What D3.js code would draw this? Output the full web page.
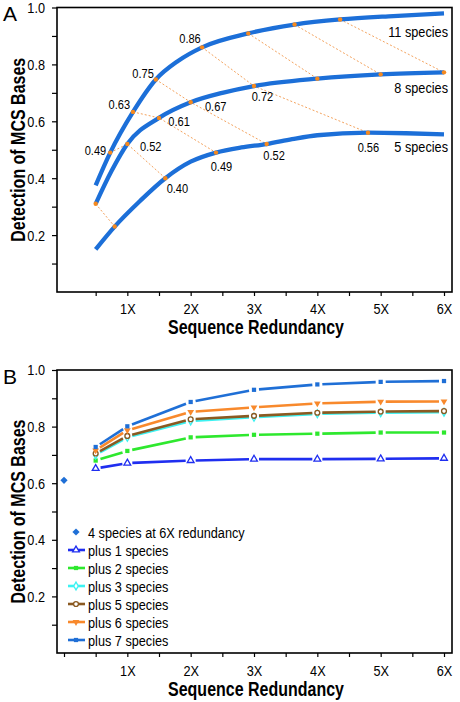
<!DOCTYPE html>
<html><head><meta charset="utf-8">
<script src="https://cdn.jsdelivr.net/npm/d3@7"></script>
<style>html,body{margin:0;padding:0;background:#fff;}svg{display:block;}</style>
</head><body>
<script>
// ---------------- DATA ----------------
// Panel A: detection vs redundancy for three species counts
const curveNames = ["11 species", "8 species", "5 species"];
const curve11X = [0.5, 0.73, 1.09, 1.45, 1.8, 2.18, 2.91, 3.64, 4.36, 5.2, 6.0];
const curve11Y = [0.375, 0.49, 0.633, 0.747, 0.812, 0.86, 0.909, 0.94, 0.958, 0.97, 0.979];
const curve8X = [0.5, 0.75, 1.0, 1.5, 2.0, 2.5, 3.0, 4.0, 5.0, 6.0];
const curve8Y = [0.31, 0.425, 0.52, 0.612, 0.667, 0.70, 0.724, 0.75, 0.765, 0.772];
const curve5X = [0.5, 0.8, 1.2, 1.6, 2.0, 2.4, 2.8, 3.2, 3.6, 4.0, 4.8, 5.4, 6.0];
const curve5Y = [0.15, 0.23, 0.32, 0.40, 0.458, 0.49, 0.508, 0.52, 0.537, 0.551, 0.56, 0.558, 0.554];
// equal-total-sequencing connectors: [curve index, redundancy] chains
const connectors = [
  [[1, 0.5], [2, 0.8]],
  [[0, 0.73], [1, 1.0], [2, 1.6]],
  [[0, 1.09], [1, 1.5], [2, 2.4]],
  [[0, 1.45], [1, 2.0], [2, 3.2]],
  [[0, 2.18], [1, 3.0], [2, 4.8]],
  [[0, 2.91], [1, 4.0]],
  [[0, 3.64], [1, 5.0]],
  [[0, 4.36], [1, 6.0]]
];
// labelled points [curve index, redundancy]
const labelledPoints = [[0,0.73],[0,1.09],[0,1.45],[0,2.18],[1,1.0],[1,1.5],[1,2.0],[1,3.0],[2,1.6],[2,2.4],[2,3.2],[2,4.8]];

// Panel B
const redundancyB = [0.5, 1, 2, 3, 4, 5, 6];
const seriesNames = ["plus 1 species", "plus 2 species", "plus 3 species", "plus 5 species", "plus 6 species", "plus 7 species"];
const plus1 = [0.652, 0.671, 0.680, 0.685, 0.685, 0.686, 0.688];
const plus2 = [0.680, 0.714, 0.762, 0.771, 0.775, 0.779, 0.779];
const plus3 = [0.700, 0.762, 0.820, 0.833, 0.845, 0.849, 0.851];
const plus5 = [0.705, 0.767, 0.826, 0.838, 0.849, 0.853, 0.855];
const plus6 = [0.716, 0.787, 0.852, 0.868, 0.882, 0.888, 0.889];
const plus7 = [0.728, 0.801, 0.887, 0.930, 0.949, 0.958, 0.961];
const baseName = "4 species at 6X redundancy";
const baseX = 0, baseY = 0.61;

const yTicks = [0.1,0.2,0.3,0.4,0.5,0.6,0.7,0.8,0.9,1.0];
const yTickLabels = {"0.2":"0.2","0.4":"0.4","0.6":"0.6","0.8":"0.8","1":"1.0"};
const xTickLabels = ["1X","2X","3X","4X","5X","6X"];

// ---------------- STYLE ----------------
const FONT = "'Liberation Sans',Arial,Helvetica,sans-serif";
const SQ = 0.82; // horizontal condensing (narrow face)
const curveColor = "#1c6fd8";
const dotColor = "#f5891f";
const seriesColors = ["#1f2ef0", "#2ee82e", "#3cf2f2", "#8b5a22", "#f8892c", "#1f6fd6"];

const svg = d3.select("body").append("svg").attr("width", 460).attr("height", 702);

const x = d3.scaleLinear().domain([0, 6]).range([64, 444]);
const yA = d3.scaleLinear().domain([0, 1]).range([292, 7.5]);
const yB = d3.scaleLinear().domain([0, 1]).range([653, 370]);

// narrow text helper
function ntext(parent, tx, ty, str, size, anchor, bold, rot) {
  const g = parent.append("g").attr("transform", `translate(${tx},${ty})${rot ? " rotate(" + rot + ")" : ""} scale(${SQ},1)`);
  const t = g.append("text").attr("font-family", FONT).attr("font-size", size)
    .attr("text-anchor", anchor || "start").attr("fill", "#000").text(str);
  if (bold) t.attr("font-weight", "bold");
  return t;
}

function styleAxis(g, left) {
  g.select(".domain").remove();
  g.selectAll(".tick line").attr("stroke", "#000").attr("stroke-width", 1.2);
  g.selectAll("text").attr("font-family", FONT).attr("font-size", 15.5).attr("fill", "#000")
    .attr("transform", `scale(${SQ},1)`);
  if (left) g.selectAll("text").attr("x", -12 / SQ);
}
function drawFrame(yS) {
  svg.append("rect").attr("x", 57).attr("y", yS(1)).attr("width", 395).attr("height", yS(0) - yS(1))
    .attr("fill", "none").attr("stroke", "#000").attr("stroke-width", 1.6);
}
function drawAxes(yS, xTicks, pad, titleOff) {
  svg.append("g").attr("transform", "translate(57,0)")
    .call(d3.axisLeft(yS).tickValues(yTicks).tickSize(5).tickPadding(6)
      .tickFormat(d => yTickLabels[String(+d.toFixed(1))] || ""))
    .call(g => styleAxis(g, true));
  svg.append("g").attr("transform", `translate(0,${yS(0)})`)
    .call(d3.axisBottom(x).tickValues(xTicks).tickSize(4).tickPadding(pad)
      .tickFormat(d => (Number.isInteger(d) && d > 0) ? xTickLabels[d - 1] : ""))
    .call(g => styleAxis(g, false));
  const cy = (yS(0) + yS(1)) / 2;
  ntext(svg, 25, cy, "Detection of MCS Bases", 19.5, "middle", true, -90);
  ntext(svg, 256, yS(0) + titleOff, "Sequence Redundancy", 19.5, "middle", true);
}

// ---------------- PANEL A ----------------
const curves = [
  curve11X.map((v, i) => ({x: v, y: curve11Y[i]})),
  curve8X.map((v, i) => ({x: v, y: curve8Y[i]})),
  curve5X.map((v, i) => ({x: v, y: curve5Y[i]}))
];
const pointOf = (c, r) => curves[c].find(p => Math.abs(p.x - r) < 1e-9);

drawFrame(yA);
drawAxes(yA, d3.range(1, 13).map(d => d / 2), 7, 42);

svg.append("text").attr("x", 3).attr("y", 20.5).attr("font-family", FONT).attr("font-size", 21).text("A");

const lineA = d3.line().x(d => x(d.x)).y(d => yA(d.y)).curve(d3.curveMonotoneX);
// connectors
svg.append("g").selectAll("path").data(connectors).join("path")
  .attr("d", ch => d3.line().x(d => x(d.x)).y(d => yA(d.y))(ch.map(([c, r]) => pointOf(c, r))))
  .attr("fill", "none").attr("stroke", "#f4a35e").attr("stroke-width", 1).attr("stroke-dasharray", "2,2");
// curves
svg.append("g").selectAll("path").data(curves).join("path")
  .attr("d", lineA).attr("fill", "none").attr("stroke", curveColor).attr("stroke-width", 4.3)
  .attr("stroke-linecap", "butt");
// dots
const dotPts = [];
connectors.forEach(ch => ch.forEach(([c, r]) => dotPts.push(pointOf(c, r))));
svg.append("g").selectAll("circle").data(dotPts).join("circle")
  .attr("cx", d => x(d.x)).attr("cy", d => yA(d.y)).attr("r", 2.2).attr("fill", dotColor);
// value labels
const labelLayout = [
  ["end", -4, 2.7], ["end", -3, -2.7], ["end", -2, -1.5], ["end", -1.3, -4],
  ["start", 12.6, 6.7], ["start", 9.3, 7.7], ["start", 14.3, 8.4], ["start", -2.3, 15.4],
  ["start", 1.3, 14.5], ["start", -5.3, 18], ["start", -3.3, 16], ["middle", 0.4, 19.4]
];
const labG = svg.append("g");
labelledPoints.forEach(([c, r], i) => {
  const p = pointOf(c, r), L = labelLayout[i];
  ntext(labG, x(p.x) + L[1], yA(p.y) + L[2], d3.format(".2f")(p.y), 13.5, L[0]);
});
// species labels
const speciesDy = [23.5, 20.6, 17.6];
curveNames.forEach((n, i) => {
  ntext(svg, 448, yA(curves[i][curves[i].length - 1].y) + speciesDy[i], n, 15.5, "end");
});

// ---------------- PANEL B ----------------
drawFrame(yB);
drawAxes(yB, d3.range(0, 13).map(d => d / 2), 7.5, 43);
svg.append("text").attr("x", 3).attr("y", 384).attr("font-family", FONT).attr("font-size", 21).text("B");

const seriesVals = [plus1, plus2, plus3, plus5, plus6, plus7];
const series = seriesVals.map((vals, i) => ({name: seriesNames[i], color: seriesColors[i],
  pts: vals.map((v, j) => ({x: redundancyB[j], y: v}))}));

function marker(sel, i, color) {
  if (i === 0) sel.append("path").attr("d", d3.symbol(d3.symbolTriangle, 20)()).attr("fill", "#fff").attr("stroke", color).attr("stroke-width", 1.3);
  else if (i === 1) sel.append("path").attr("d", d3.symbol(d3.symbolSquare, 18)()).attr("fill", color);
  else if (i === 2) sel.append("path").attr("d", d3.symbol(d3.symbolDiamond, 18)()).attr("fill", "#fff").attr("stroke", color).attr("stroke-width", 1.3);
  else if (i === 3) sel.append("circle").attr("r", 2.4).attr("fill", "#fff").attr("stroke", color).attr("stroke-width", 1.4);
  else if (i === 4) sel.append("path").attr("d", d3.symbol(d3.symbolTriangle, 20)()).attr("transform", "rotate(180)").attr("fill", color);
  else sel.append("path").attr("d", d3.symbol(d3.symbolSquare, 18)()).attr("fill", color);
}

const gap = 5;
series.forEach((s, i) => {
  const g = svg.append("g");
  const px = s.pts.map(p => [x(p.x), yB(p.y)]);
  for (let k = 0; k < px.length - 1; k++) {
    const [x1, y1] = px[k], [x2, y2] = px[k + 1];
    const len = Math.hypot(x2 - x1, y2 - y1), ux = (x2 - x1) / len, uy = (y2 - y1) / len;
    g.append("line").attr("x1", x1 + ux * gap).attr("y1", y1 + uy * gap)
      .attr("x2", x2 - ux * gap).attr("y2", y2 - uy * gap)
      .attr("stroke", s.color).attr("stroke-width", 2.6);
  }
  px.forEach(([cx, cy]) => marker(g.append("g").attr("transform", `translate(${cx},${cy})`), i, s.color));
});
// base diamond (rotated square)
const diamondPath = d3.symbol(d3.symbolSquare, 26)();
svg.append("path").attr("d", diamondPath).attr("fill", "#1f6fd6")
  .attr("transform", `translate(${x(baseX)},${yB(baseY)}) rotate(45)`);

// legend
const leg = svg.append("g").attr("transform", "translate(76,532)");
leg.append("path").attr("d", diamondPath).attr("fill", "#1f6fd6").attr("transform", "rotate(45)");
ntext(leg, 12, 5.5, baseName, 15.5, "start");
series.forEach((s, i) => {
  const r = leg.append("g").attr("transform", `translate(0,${18 * (i + 1)})`);
  r.append("line").attr("x1", -8).attr("x2", 9).attr("stroke", s.color).attr("stroke-width", 2.6);
  marker(r, i, s.color);
  ntext(r, 12, 5.5, s.name, 15.5, "start");
});
</script>
</body></html>
